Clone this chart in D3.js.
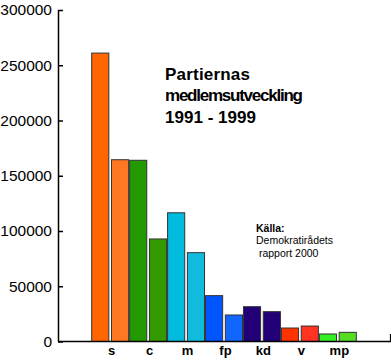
<!DOCTYPE html>
<html><head><meta charset="utf-8">
<script src="https://cdnjs.cloudflare.com/ajax/libs/d3/7.8.5/d3.min.js"></script>
<style>body{margin:0;background:#fff}svg{display:block;font-family:"Liberation Sans",Arial,sans-serif}</style>
</head><body><svg id="c" width="391" height="361"></svg>
<script>
const categories = ["s","c","m","fp","kd","v","mp"];
const years = ["1991","1999"];
const values1991 = [261000,164000,116500,41500,31500,12200,6800];
const values1999 = [164500,92800,80400,24000,27000,14000,8300];
const colors1991 = ["#FF6600","#229900","#00BBDD","#0055FF","#220077","#FF3300","#33EE22"];
const colors1999 = ["#FF7722","#339900","#11BBDD","#1166FF","#220077","#FF3322","#55DD22"];
const yTicks = [0,50000,100000,150000,200000,250000,300000];
const titleLines = ["Partiernas","medlemsutveckling","1991 - 1999"];
const sourceLines = ["Källa:","Demokratirådets"," rapport 2000"];

const bars = [];
categories.forEach((c,i)=>{
  bars.push({cat:c, year:years[0], v:values1991[i], col:colors1991[i]});
  bars.push({cat:c, year:years[1], v:values1999[i], col:colors1999[i]});
});

const svg = d3.select("#c");
const y = d3.scaleLinear().domain([0,300000]).range([341.5,10]);
const xCat = d3.scaleBand().domain(categories).range([91.2,356.8]).paddingInner(0).paddingOuter(0);
const xSub = d3.scaleBand().domain(years).range([0,xCat.bandwidth()]).paddingInner(0.085).paddingOuter(0.0);

svg.append("g").selectAll("rect").data(bars).join("rect")
  .attr("x",d=>xCat(d.cat)+xSub(d.year)+0.5)
  .attr("y",d=>y(d.v))
  .attr("width",xSub.bandwidth()-1)
  .attr("height",d=>y(0)-y(d.v))
  .attr("fill",d=>d.col)
  .attr("stroke","#333")
  .attr("stroke-width",1);

// y axis
const ya = svg.append("g").attr("transform","translate(58,0)")
  .call(d3.axisRight(y).tickValues(yTicks).tickSize(5).tickFormat(d3.format("d")));
ya.select(".domain").attr("d","M0.5,10V341.5").attr("stroke","#000").attr("stroke-width",1.5);
ya.selectAll(".tick line").attr("stroke","#000").attr("stroke-width",1.5);
ya.selectAll(".tick text").attr("x",-6).attr("text-anchor","end")
  .attr("font-size","15.5px").attr("font-family","Liberation Sans, Arial, sans-serif").attr("fill","#000");

// x axis
const xa = svg.append("g").attr("transform","translate(0,341.5)")
  .call(d3.axisBottom(xCat).tickSize(0).tickPadding(4));
xa.select(".domain").attr("d","M58,0H391").attr("stroke","#000").attr("stroke-width",1.5);
xa.selectAll(".tick text").attr("font-size","13px").attr("font-weight","bold")
  .attr("font-family","Liberation Sans, Arial, sans-serif").attr("fill","#000")
  .attr("dx","1.5");
svg.append("line").attr("x1",390.5).attr("x2",390.5).attr("y1",334).attr("y2",341.5)
  .attr("stroke","#000").attr("stroke-width",1.2);

// title
const tl = [85, 138, 91];
svg.append("g").selectAll("text").data(titleLines).join("text")
  .attr("x",165).attr("y",(d,i)=>79.5+i*21.5)
  .attr("font-size","17px").attr("font-weight","bold")
  .attr("textLength",(d,i)=>tl[i]).attr("lengthAdjust","spacing")
  .attr("fill","#000").text(d=>d);

// source
svg.append("g").selectAll("text").data(sourceLines).join("text")
  .attr("x",256).attr("y",(d,i)=>231.5+i*12.5)
  .attr("font-size","10.5px").attr("font-weight",(d,i)=>i===0?"bold":"normal")
  .attr("fill","#000").attr("xml:space","preserve").style("white-space","pre").text(d=>d);
</script></body></html>
